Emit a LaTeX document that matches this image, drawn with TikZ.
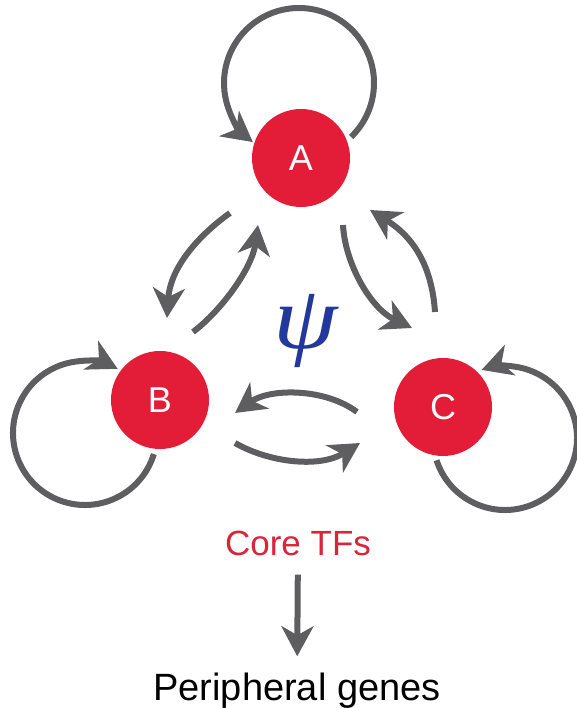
\documentclass[tikz,border=0pt]{standalone}
\usepackage{fontspec}
\setmainfont{Liberation Sans}
\newfontfamily\psifont{Liberation Serif}
\usetikzlibrary{arrows.meta}
\definecolor{tfred}{HTML}{E31D38}
\definecolor{txtred}{HTML}{D9243A}
\definecolor{arrgray}{HTML}{5E5E60}
\definecolor{psiblue}{HTML}{22399B}
\begin{document}
\begin{tikzpicture}[x=1pt,y=1pt,
  tf/.style={circle,fill=tfred,minimum size=98pt,inner sep=0pt,text=white,font=\fontsize{36}{36}\selectfont},
  reg/.style={draw=arrgray,line width=6pt,-{Stealth[length=30pt 0,width=32pt 0,inset=9pt 0]}},
  lbl/.style={inner sep=2pt}
]
\useasboundingbox (0,0) rectangle (577,708);
\node[tf] (A) at (301,550) {A};
\node[tf] (B) at (160,308) {B};
\node[tf] (C) at (443,301) {C};
% self loops
\coordinate (Aloop) at (299,625);
\coordinate (Bloop) at (85,275);
\coordinate (Cloop) at (505,270);
\draw[reg] ([shift={(-46:75)}]Aloop) arc[start angle=-46,end angle=232,radius=75];
\draw[reg] ([shift={(-17:72)}]Bloop) arc[start angle=-17,end angle=-297,radius=72];
\draw[reg] ([shift={(198:72)}]Cloop) arc[start angle=198,end angle=469,radius=72];
% A-B
\coordinate (ab1) at (230,495); \coordinate (ab2) at (167,390);
\draw[reg] (ab1) .. controls (195,470) and (170,438) .. (ab2);
\coordinate (ba1) at (193,376); \coordinate (ba2) at (258,483);
\draw[reg] (ba1) .. controls (222,398) and (252,440) .. (ba2);
% A-C
\coordinate (ac1) at (343,483); \coordinate (ac2) at (412,380);
\draw[reg] (ac1) .. controls (345,445) and (370,400) .. (ac2);
\coordinate (ca1) at (435,396); \coordinate (ca2) at (370,498);
\draw[reg] (ca1) .. controls (432,440) and (415,470) .. (ca2);
% B-C
\coordinate (cb1) at (357,296); \coordinate (cb2) at (235,295);
\draw[reg] (cb1) .. controls (325,320) and (270,320) .. (cb2);
\coordinate (bc1) at (235,265); \coordinate (bc2) at (360,265);
\draw[reg] (bc1) .. controls (270,245) and (320,240) .. (bc2);
% psi
\node[text=psiblue,xscale=1.15,font=\psifont\itshape\fontsize{90}{90}\selectfont] (psi) at (306,377) {ψ};
% bottom
\node[lbl,text=txtred,font=\fontsize{35}{35}\selectfont] (core) at (298,165) {Core TFs};
\node[lbl,anchor=base,font=\fontsize{38}{38}\selectfont] (periph) at (297,8) {Peripheral genes};
\draw[reg,shorten <=17pt,shorten >=14pt] (core) -- (periph);
\end{tikzpicture}
\end{document}
